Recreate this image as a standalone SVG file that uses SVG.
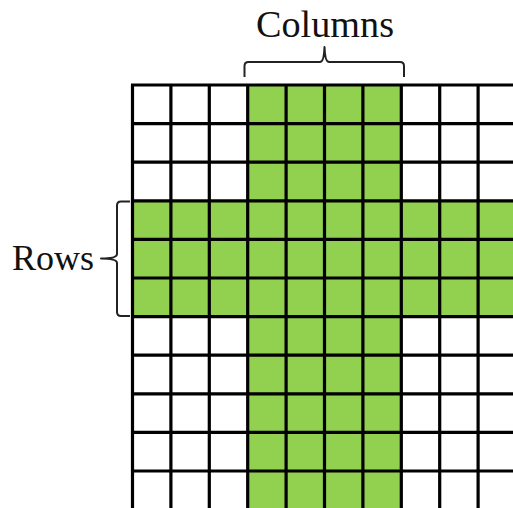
<svg xmlns="http://www.w3.org/2000/svg" width="513" height="508" viewBox="0 0 513 508">
<style>
.lbl{font-family:"Liberation Serif","Times New Roman",serif;fill:#111}
.g{fill:#92d050}
.grid{stroke:#000;stroke-width:3.2;fill:none}
.brace{stroke:#222;stroke-width:2;fill:none;stroke-linejoin:round}
</style>
<rect width="513" height="508" fill="#fff"/>
<g id="fill">
<rect class="g" x="247.7" y="85" width="153.6" height="425"/>
<rect class="g" x="132.5" y="200.8" width="385" height="115.8"/>
</g>
<g id="grid" class="grid">
<path d="M132.5 85V510M170.9 85V510M209.3 85V510M247.7 85V510M286.1 85V510M324.5 85V510M362.9 85V510M401.3 85V510M439.7 85V510M478.1 85V510"/>
<path d="M131 85H515M131 123.6H515M131 162.2H515M131 200.8H515M131 239.4H515M131 278H515M131 316.6H515M131 355.2H515M131 393.8H515M131 432.4H515M131 471H515"/>
</g>
<g id="connectors">
<path class="brace" d="M244.5 77V66Q244.5 62 248.5 62H320Q324 62 324.5 47Q325 62 329 62H400Q404 62 404 66V77"/>
<path class="brace" d="M130 201.5H121Q117 201.5 117 205.5V254Q117 258.5 101 258.5Q117 258.5 117 263V312Q117 316 121 316H130"/>
</g>
<g id="columns-label"><text class="lbl" x="325" y="37" font-size="37" text-anchor="middle" textLength="138" lengthAdjust="spacingAndGlyphs">Columns</text></g>
<g id="rows-label"><text class="lbl" x="12" y="270" font-size="36" textLength="82" lengthAdjust="spacingAndGlyphs">Rows</text></g>
</svg>
